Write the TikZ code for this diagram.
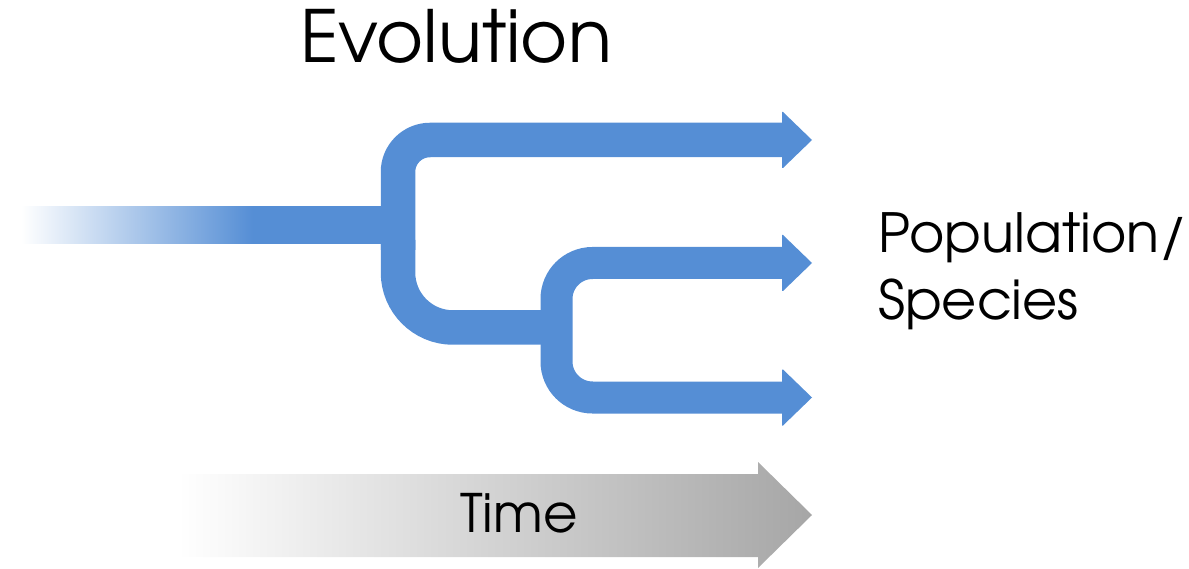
\documentclass[tikz,border=0pt]{standalone}
\usepackage{fontspec}
\setmainfont{TeX Gyre Adventor}
\definecolor{branch}{HTML}{558ED5}
\definecolor{timegray}{HTML}{A6A6A6}
% stem fades in from white, reaching full colour about 60% along
\pgfdeclarehorizontalshading{stemfade}{100bp}{color(0bp)=(white); color(25bp)=(white); color(55.6bp)=(branch); color(100bp)=(branch)}
\begin{document}
\begin{tikzpicture}[x=1pt, y=-1pt,
  limb/.style={draw=branch, line width=34.5pt, line cap=butt},
  twig/.style={draw=branch, line width=32pt, line cap=butt},
  headtip/.pic={\fill[branch] (-1,-28) -- (0,-28) -- (29,0) -- (0,28) -- (-1,28) -- cycle;},
  label/.style={inner sep=0pt, text=black}]
\useasboundingbox (0,0) rectangle (1189,569);

% key points of the tree
\coordinate (root)   at (21,225.5);
\coordinate (fork1)  at (398,225.5);
\coordinate (fork2)  at (556.5,327.5);
\coordinate (tipA)   at (783,140);
\coordinate (tipB)   at (783,263);
\coordinate (tipC)   at (783,397.5);

% ancestral stem fading in from the left
\shade[shading=stemfade] (21,207) rectangle (400,244);

% first split
\draw[limb, rounded corners=32pt] ([xshift=2pt]tipA) -- (fork1 |- tipA) -- (398,250);
\draw[limb, rounded corners=55pt] (398,240) -- (fork1 |- fork2) -- ([xshift=4pt]fork2);

% second split
\draw[twig, rounded corners=36pt] ([xshift=2pt]tipB) -- (fork2 |- tipB) -- (fork2 |- tipC) -- ([xshift=2pt]tipC);

% arrow heads
\pic at (tipA) {headtip};
\pic at (tipB) {headtip};
\pic at (tipC) {headtip};

% time axis
\coordinate (tend) at (812,515);
\shade[left color=white, right color=timegray]
  (178,474) -- (758,474) -- (758,462) -- (tend) -- (758,568) -- (758,557) -- (178,557) -- cycle;

% labels
\node[label, anchor=base, font=\fontsize{72}{72}\selectfont] (title) at (456,63) {Evolution};
\node[label, anchor=base west, font=\fontsize{54}{54}\selectfont] (pop) at (878,253) {Population/};
\node[label, anchor=base west, font=\fontsize{54}{54}\selectfont] (spec) at (878,320) {Species};
\node[label, anchor=base, font=\fontsize{53}{53}\selectfont] (time) at (519,532) {Time};
\end{tikzpicture}
\end{document}
